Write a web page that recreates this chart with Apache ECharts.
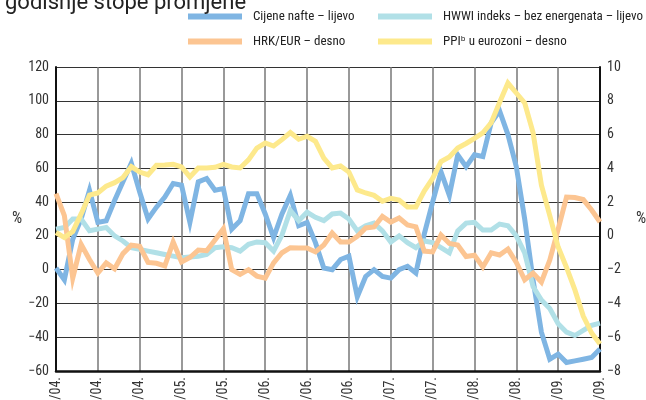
<!DOCTYPE html>
<html>
<head>
<meta charset="utf-8">
<script src="https://cdn.jsdelivr.net/npm/echarts@6/dist/echarts.min.js"></script>
<style>
html, body { margin: 0; padding: 0; background: #fff; }
#chart { width: 646px; height: 400px; }
</style>
</head>
<body>
<div id="chart"></div>
<script>
// mjesečni podaci, 1/04. - 6/09.
var years = ['04', '05', '06', '07', '08', '09'];
var months = [];
for (var y = 0; y < years.length; y++) {
	for (var m = 1; m <= 12; m++) {
		if (years[y] === '09' && m > 6) break;
		months.push(m + '/' + years[y] + '.');
	}
}

// lijevo
var oilPrices = [1, -6, 18, 30, 47, 28, 29, 41, 52, 63, 46, 30, 37, 43, 51, 50, 28, 52, 54, 47,
	48, 24, 29, 45, 45, 33, 19, 33, 44, 26, 28, 16, 1, 0, 6, 8, -16, -4, 0, -4,
	-5, 0, 2, -2, 21, 40, 58, 44, 68, 61, 68, 67, 87, 94, 80, 61, 30, -6, -37, -53,
	-50, -55, -54, -53, -52, -47];
var hwwi = [24, 25, 30, 30, 23, 24, 25, 20, 17, 13, 12, 11, 10, 9, 8, 7, 7.5, 8, 9, 13,
	13.6, 13, 11, 15, 16.4, 16, 11, 20.5, 35, 29, 34, 31, 29, 33, 33.5, 30, 23, 26, 27.6, 23,
	16.4, 20, 16, 13, 17, 16, 13, 10, 23, 27.6, 28, 23.5, 23.5, 27, 26, 20, 10, -10, -18, -23,
	-32, -37, -39, -36, -33, -31.6];
// desno
var hrkEur = [2.5, 1.2, -2.5, -0.5, -1.4, -2.2, -1.6, -1.95, -1.05, -0.55, -0.62, -1.57, -1.62, -1.78, -0.36, -1.55, -1.28, -0.84, -0.88, -0.24,
	0.42, -2.0, -2.28, -2.0, -2.38, -2.5, -1.6, -1.0, -0.7, -0.72, -0.72, -0.95, -0.54, 0.17, -0.36, -0.36, -0.03, 0.47, 0.53, 1.15,
	0.82, 1.06, 0.65, 0.53, -0.9, -0.95, 0.05, -0.45, -0.54, -1.22, -1.15, -1.84, -1.0, -1.13, -0.78, -1.57, -2.6, -2.2, -2.73, -1.43,
	0.4, 2.3, 2.27, 2.15, 1.53, 0.82];
var ppi = [0.2, -0.1, 0.25, 1.3, 2.42, 2.54, 2.95, 3.15, 3.45, 4.1, 3.78, 3.62, 4.18, 4.2, 4.24, 4.08, 3.49, 4.02, 4.02, 4.06,
	4.24, 4.08, 4.02, 4.5, 5.2, 5.5, 5.32, 5.7, 6.12, 5.72, 5.9, 5.6, 4.6, 4.02, 4.14, 3.78, 2.72, 2.54, 2.4, 2.05,
	2.22, 2.12, 1.71, 1.71, 2.65, 3.4, 4.4, 4.67, 5.2, 5.47, 5.77, 6.1, 6.7, 7.9, 9.05, 8.46, 7.87, 6.12, 3.0, 1.2,
	-0.66, -1.87, -3.2, -4.75, -5.75, -6.4];

var seriesNames = ['Cijene nafte – lijevo', 'HWWI indeks – bez energenata – lijevo', 'HRK/EUR – desno', 'PPI\u1D47 u eurozoni – desno'];
var seriesColors = ['#7fb5e3', '#b1e0e7', '#fcc592', '#fde98c'];

var fontFam = '"Roboto Condensed", "DejaVu Sans Condensed", sans-serif';

function minusFmt(v) {
	return String(v).replace('-', '\u2212');
}

function lineSeries(idx, data, axisIdx) {
	return {
		name : seriesNames[idx],
		type : 'line',
		yAxisIndex : axisIdx,
		data : data,
		symbol : 'none',
		lineStyle : { color : seriesColors[idx], width : 5, join : 'miter' },
		itemStyle : { color : seriesColors[idx] }
	};
}

function legendCol(left, names) {
	return {
		orient : 'vertical',
		left : left,
		top : 10,
		padding : 0,
		itemWidth : 54,
		itemHeight : 6,
		itemGap : 12,
		icon : 'rect',
		textStyle : { fontFamily : fontFam, fontSize : 13, color : '#222', padding : [0, 0, 0, 6] },
		data : names
	};
}

var myChart = echarts.init(document.getElementById('chart'));
var option = {
	animation : false,
	textStyle : { fontFamily : fontFam },
	title : {
		text : 'godišnje stope promjene',
		left : 0,
		top : -13,
		textStyle : { fontFamily : 'Roboto, sans-serif', fontSize : 22, fontWeight : 'normal', color : '#222' }
	},
	legend : [ legendCol(188, [ seriesNames[0], seriesNames[2] ]), legendCol(378, [ seriesNames[1], seriesNames[3] ]) ],
	grid : { left : 56, right : 46, top : 67, bottom : 29, outerBoundsMode : 'none', containLabel : false },
	xAxis : {
		type : 'category',
		data : months,
		boundaryGap : false,
		axisLine : { onZero : false, lineStyle : { color : '#111', width : 2.5 } },
		axisTick : { show : false },
		axisLabel : { interval : 4, rotate : 90, fontSize : 14, color : '#333', margin : 6, fontFamily : fontFam },
		splitLine : { show : true, interval : 4, lineStyle : { color : '#777', width : 1.5 } }
	},
	yAxis : [ {
		type : 'value',
		min : -60,
		max : 120,
		interval : 20,
		name : '%',
		nameLocation : 'middle',
		nameRotate : 0,
		nameGap : 34,
		nameTextStyle : { fontSize : 16, color : '#333', fontFamily : fontFam },
		axisLine : { show : true, lineStyle : { color : '#111', width : 2 } },
		axisTick : { show : false },
		axisLabel : { fontSize : 14, color : '#333', margin : 7, fontFamily : fontFam, formatter : minusFmt },
		splitLine : { lineStyle : { color : '#333', width : 1.2 } }
	}, {
		type : 'value',
		min : -8,
		max : 10,
		interval : 2,
		name : '%',
		nameLocation : 'middle',
		nameRotate : 0,
		nameGap : 36,
		nameTextStyle : { fontSize : 16, color : '#333', fontFamily : fontFam },
		axisLine : { show : true, lineStyle : { color : '#111', width : 2 } },
		axisTick : { show : false },
		axisLabel : { fontSize : 14, color : '#333', margin : 7, fontFamily : fontFam, formatter : minusFmt },
		splitLine : { show : false }
	} ],
	series : [
		lineSeries(0, oilPrices, 0),
		lineSeries(1, hwwi, 0),
		lineSeries(2, hrkEur, 1),
		lineSeries(3, ppi, 1)
	]
};
myChart.setOption(option);
</script>
</body>
</html>
